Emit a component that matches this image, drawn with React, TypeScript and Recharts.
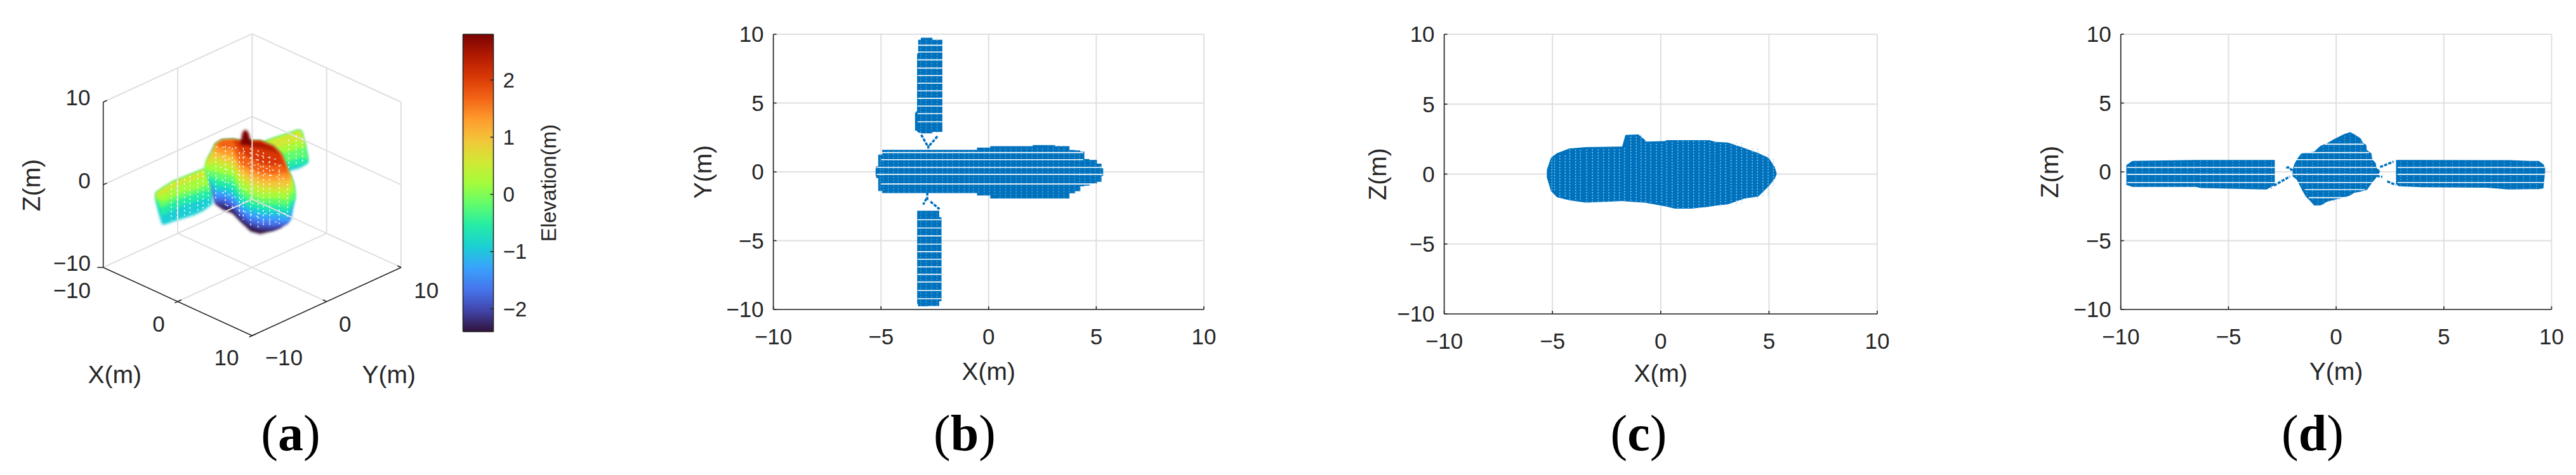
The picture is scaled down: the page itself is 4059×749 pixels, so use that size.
import React from 'react';
import { Area, CartesianGrid, ComposedChart, Line, ReferenceDot, XAxis, YAxis } from 'recharts';

const FONT = '"Liberation Sans", Arial, sans-serif';
const INK = '#262626';
const GRID = '#dfdfdf';
const BLUE = '#0072BD';
const AXIS_TICKS = [-10, -5, 0, 5, 10];

// turbo colormap, low to high
const turboColors = ['#30123b', '#4145ab', '#4675ed', '#39a2fc', '#1bcfd4', '#24eca6', '#61fc6c', '#a4fc3b', '#d1e834', '#f3c63a', '#fe9b2d', '#f36315', '#d93806', '#b11901', '#7a0402'];
const elevationTicks = [-2, -1, 0, 1, 2];
const elevationRange = [-2.4, 2.8];

// (a) view plane of the 3D plot, body silhouette and iso-elevation curves
const bodyU = [250, 258, 270, 285, 295, 300, 330, 380, 418, 465, 510, 570, 610, 640, 655, 668, 675];
const bodyTop = [215, 190, 170, 148, 125, 115, 95, 92, 100, 100, 100, 125, 165, 240, 270, 310, 345];
const bodyBottom = [245, 258, 290, 325, 385, 395, 420, 440, 480, 525, 537, 522, 505, 485, 465, 390, 370];
const bodyIso = [
  [245, 258, 290, 325, 385, 395, 405, 425, 470, 505, 518, 518, 505, 485, 465, 390, 370],
  [245, 258, 290, 325, 380, 385, 380, 402, 448, 482, 495, 500, 497, 485, 465, 390, 370],
  [245, 258, 290, 325, 355, 362, 358, 378, 425, 458, 470, 475, 476, 480, 465, 390, 370],
  [245, 258, 290, 315, 330, 335, 335, 352, 402, 433, 445, 448, 450, 458, 440, 390, 370],
  [245, 258, 290, 295, 305, 308, 312, 325, 378, 408, 418, 425, 425, 432, 412, 390, 370],
  [245, 258, 270, 268, 272, 275, 285, 292, 350, 380, 395, 398, 400, 408, 378, 380, 370],
  [240, 235, 240, 240, 240, 242, 252, 260, 320, 350, 368, 370, 370, 378, 345, 345, 345],
  [215, 210, 212, 205, 205, 208, 220, 230, 290, 318, 338, 342, 340, 345, 315, 310, 345],
  [215, 190, 185, 175, 175, 178, 190, 200, 260, 288, 308, 315, 312, 315, 285, 310, 345],
  [215, 190, 170, 150, 145, 148, 160, 170, 232, 258, 280, 285, 280, 280, 270, 310, 345],
  [215, 190, 170, 148, 125, 118, 130, 135, 205, 228, 250, 255, 250, 250, 270, 310, 345],
  [215, 190, 170, 148, 125, 115, 98, 95, 150, 180, 205, 215, 205, 240, 270, 310, 345],
  [215, 190, 170, 148, 125, 115, 95, 92, 105, 125, 130, 145, 165, 240, 270, 310, 345],
];
const spikeU = [418, 425, 432, 440, 448, 455, 462, 470];
const spikeTop = [100, 60, 48, 44, 48, 60, 85, 105];
const spikeBottom = [115, 115, 115, 115, 115, 115, 115, 115];

const leftBladeU = [18, 30, 45, 60, 100, 150, 200, 245, 262, 285];
const leftBladeTop = [345, 335, 325, 315, 290, 270, 250, 232, 240, 260];
const leftBladeBottom = [380, 440, 492, 492, 478, 462, 447, 425, 412, 395];
const leftBladeIso = [
  [375, 420, 450, 445, 420, 400, 385, 370, 365, 360],
  [375, 395, 415, 405, 385, 365, 350, 335, 330, 330],
  [370, 375, 385, 380, 360, 340, 328, 310, 305, 300],
  [360, 355, 355, 345, 320, 300, 282, 265, 262, 262],
];
const rightBladeU = [535, 600, 640, 690, 703, 722, 736];
const rightBladeTop = [100, 77, 65, 47, 50, 120, 190];
const rightBladeBottom = [290, 260, 240, 228, 222, 210, 198];
const rightBladeIso = [
  [240, 235, 225, 212, 210, 208, 198],
  [210, 205, 195, 178, 175, 178, 190],
  [170, 165, 150, 135, 130, 130, 190],
  [140, 130, 115, 100, 98, 125, 190],
];

// gaps in the point cloud of (a): u, from v, to v
const streaksU = [90, 118, 152, 178, 215, 240, 265, 300, 345, 378, 412, 430, 465, 500, 525, 555, 600, 640, 645, 680, 710];
const streaksFrom = [300, 285, 275, 262, 250, 240, 245, 150, 120, 130, 150, 130, 130, 140, 150, 170, 210, 300, 90, 70, 80];
const streaksTo = [470, 465, 450, 445, 430, 420, 400, 380, 400, 420, 450, 470, 500, 510, 500, 500, 490, 460, 225, 215, 205];
const slantRows = [
  [430, 145, 590, 185], [430, 172, 610, 212], [450, 202, 625, 250], [470, 235, 630, 278],
  [300, 125, 410, 130], [330, 170, 410, 200], [320, 220, 420, 260], [300, 270, 450, 330],
  [330, 340, 480, 395], [350, 400, 500, 455], [500, 440, 640, 440], [520, 480, 610, 480],
];

const axisLabels3d = [
  { u: -351, v: -108, text: '10' }, { u: -321, v: 285, text: '0' }, { u: -380, v: 675, text: '\u221210' },
  { u: -380, v: 804, text: '\u221210' }, { u: 30, v: 961, text: '0' }, { u: 351, v: 1121, text: '10' },
  { u: 622, v: 1121, text: '\u221210' }, { u: 911, v: 961, text: '0' }, { u: 1295, v: 804, text: '10' },
];

// box edges of the 3D axes in X, Y, Z metres
const lightEdges = [
  [[-10, 10, -10], [-10, -10, -10]], [[-10, 10, -10], [10, 10, -10]],
  [[0, -10, -10], [0, 10, -10]], [[-10, 0, -10], [10, 0, -10]],
  [[-10, -10, 10], [-10, 10, 10]], [[-10, 10, 10], [10, 10, 10]],
  [[-10, -10, 0], [-10, 10, 0]], [[-10, 10, 0], [10, 10, 0]],
  [[-10, 0, -10], [-10, 0, 10]], [[0, 10, -10], [0, 10, 10]],
  [[-10, 10, -10], [-10, 10, 10]], [[10, 10, -10], [10, 10, 10]],
];
const darkEdges = [
  [[-10, -10, -10], [-10, -10, 10]], [[-10, -10, -10], [10, -10, -10]], [[10, -10, -10], [10, 10, -10]],
  [[-10, -10, 10], [-10, -9.5, 10]], [[-10, -10, 0], [-10, -9.5, 0]], [[-10, -10, -10], [-10.4, -10.4, -10]],
  [[0, -10, -10], [0, -9.5, -10]], [[0, -10, -10], [0, -10.4, -10]], [[10, -10, -10], [10, -9.5, -10]], [[10, -10, -10], [10, -10.4, -10]],
  [[10, 0, -10], [9.5, 0, -10]], [[10, 10, -10], [9.5, 10, -10]],
];

// (b) top view outline
const bBodyX = [-5.25, -5.2, -5.06, -4.83, -4, -2, -0.87, -0.21, 0.36, 1.5, 2.6, 3.57, 3.94, 4.1, 4.42, 4.47, 4.89, 5.17, 5.32];
const bBodyTop = [0.26, 0.4, 1.26, 1.6, 1.6, 1.6, 1.6, 1.76, 1.87, 1.87, 1.95, 1.87, 1.59, 1.55, 1.48, 0.93, 0.86, 0.6, 0.26];
const bBodyLow = [-0.29, -0.45, -1.39, -1.54, -1.54, -1.54, -1.54, -1.72, -1.94, -1.94, -1.94, -1.94, -1.55, -1.4, -1.05, -1, -0.85, -0.73, -0.29];
const bUpperX = [-3.42, -3.33, -3.32, -3.23, -3.07, -2.15];
const bUpperTop = [4.3, 4.4, 8.6, 9.6, 9.75, 9.6];
const bUpperLow = [3, 3, 2.9, 2.85, 2.8, 2.9];
const bLowerX = [-3.32, -3.25, -2.4, -2.19];
const bLowerTop = [-2.82, -2.82, -2.82, -3.3];
const bLowerLow = [-9.6, -9.77, -9.75, -9.4];
const bStrands = [
  [[-3.13, 2.69], [-2.85, 1.92]], [[-2.38, 2.58], [-2.75, 1.92]], [[-2.8, 1.92], [-2.8, 1.54]],
  [[-2.85, -1.5], [-2.85, -2.05]], [[-2.89, -1.94], [-3.04, -2.38]], [[-2.7, -2.16], [-2.28, -2.71]],
];
const bRowsBody = [1.4, 0.89, 0.32, -0.18, -0.88];
const bRowsBodyStart = [-4.95, -5, -5.2, -5.2, -5];
const bRowsBodyEnd = [4.4, 4.4, 5.25, 5.3, 5];
const bRowsUpper = [9.2, 8.71, 8.14, 7.54, 6.99, 6.44, 5.89, 5.34, 4.78, 4.23, 3.64];
const bRowsLower = [-3.48, -4.08, -4.65, -5.25, -5.8, -6.35, -6.9, -7.45, -8, -8.62, -9.22];
const bBladeStripes = [-3.15, -2.9, -2.65, -2.4];

// lattice columns seen along X in (b) and (c)
const latticeX = [-5.03, -4.9, -4.66, -4.41, -4.2, -3.93, -3.71, -3.42, -3.15, -2.89, -2.64, -2.4, -2.14, -1.91, -1.67, -1.38, -1.13, -0.91, -0.7, -0.46, -0.2, 0.05, 0.28, 0.53, 0.79, 1.03, 1.28, 1.52, 1.77, 2.02, 2.27, 2.5, 2.76, 3, 3.25, 3.5, 3.74, 3.98, 4.23, 4.47, 4.72, 4.96, 5.2];

// (c) side view outline
const cBodyX = [-5.26, -5.07, -4.79, -4.23, -3.47, -1.78, -1.63, -1.03, -0.75, -0.66, 0.19, 0.28, 0.66, 1.41, 2.25, 2.54, 3.1, 3.85, 4.51, 4.98, 5.26, 5.35];
const cBodyTop = [0.3, 1.17, 1.5, 1.82, 1.93, 1.97, 2.8, 2.84, 2.47, 2.32, 2.36, 2.43, 2.43, 2.43, 2.43, 2.3, 2.26, 1.87, 1.5, 1.17, 0.52, 0.09];
const cBodyLow = [-0.24, -1.21, -1.65, -1.87, -2.04, -1.93, -1.95, -2.02, -2.04, -2.06, -2.3, -2.34, -2.47, -2.47, -2.34, -2.26, -2.17, -1.76, -1.6, -0.89, -0.35, -0.02];

// (d) front view outline
const dBodyX = [-2.02, -1.95, -1.83, -1.73, -1.61, -1.41, -1.22, -1.02, -0.73, -0.43, -0.09, 0.35, 0.65, 0.84, 1.14, 1.24, 1.39, 1.43, 1.63, 1.68, 1.83, 1.88, 2.02];
const dBodyTop = [0.12, 0.54, 0.89, 1.12, 1.35, 1.4, 1.43, 1.47, 1.89, 2.07, 2.38, 2.73, 2.89, 2.73, 2.43, 2.12, 1.97, 1.58, 1.35, 0.89, 0.66, 0.28, 0.12];
const dBodyLow = [-0.34, -0.41, -0.57, -0.88, -1.26, -1.8, -2.1, -2.44, -2.44, -2.18, -2.03, -1.87, -1.72, -1.52, -1.44, -1.38, -1.34, -1.31, -0.88, -0.75, -0.49, -0.34, -0.03];
const dLeftX = [-9.74, -9.46, -6.5, -6.3, -3.23, -2.95, -2.85];
const dLeftTop = [0.49, 0.8, 0.86, 0.86, 0.86, 0.86, 0.86];
const dLeftLow = [-0.95, -1.1, -1.1, -1.17, -1.28, -1.05, -0.9];
const dRightX = [2.78, 2.9, 4, 7, 8, 9, 9.4, 9.62, 9.7];
const dRightTop = [0.86, 0.86, 0.86, 0.85, 0.85, 0.8, 0.8, 0.55, 0.3];
const dRightLow = [-0.9, -1.05, -1.12, -1.15, -1.28, -1.25, -1.25, -1.2, 0];
const dStrands = [
  [[-2.89, -1], [-2.15, -0.34]], [[-2.32, 0.32], [-2.15, 0.32]], [[-2.15, 0.23], [-1.95, 0.05]],
  [[2.04, 0.35], [2.66, 0.74]], [[1.88, -0.29], [2.14, -0.37]], [[2.37, -0.69], [2.76, -0.95]],
];
const dRowsBody = [2.01, 1.4, 0.89, 0.32, -0.18, -0.77, -1.29, -1.87];
const dRowsBodyStart = [-0.53, -1.61, -1.83, -1.95, -2, -1.81, -1.46, -1.27];
const dRowsBodyEnd = [1.29, 1.53, 1.68, 1.88, 2.02, 1.73, 1.34, 0.45];
const dRowsBlade = [0.32, -0.18, -0.77];
const dBodyStripes = [-1.85, -1.6, -1.35, -1.1, -0.85, -0.6, -0.35, -0.1, 0.15, 0.4, 0.65, 0.9, 1.15, 1.4, 1.65];
const dLeftStripes = [-9.3, -9, -8.7, -8.4, -8.1, -7.8, -7.5, -7.2, -6.9, -6.6, -6.3, -6, -5.7, -5.4, -5.1, -4.8, -4.5, -4.2, -3.9, -3.6, -3.3, -3];
const dRightStripes = [3, 3.3, 3.6, 3.9, 4.2, 4.5, 4.8, 5.1, 5.4, 5.7, 6, 6.3, 6.6, 6.9, 7.2, 7.5, 7.8, 8.1, 8.4, 8.7, 9, 9.3];

const zip3 = (xs: number[], tops: number[], lows: number[]) =>
  xs.map((x, i) => ({ x, range: [lows[i], tops[i]] }));

const minusTick = (v: number) => (v < 0 ? `\u2212${Math.abs(v)}` : `${v}`);

const tickStyle = { fontSize: 35, fontFamily: FONT, fill: INK };
const labelStyle = { fontSize: 39, fontFamily: FONT, fill: INK };

// a lattice column is kept inside the outline it crosses
const stripesIn = (stripes: number[], xs: number[], tops: number[], lows: number[]) =>
  stripes
    .filter((s) => s >= xs[0] && s <= xs[xs.length - 1])
    .map((s) => {
      let i = 0;
      while (i < xs.length - 1 && xs[i + 1] <= s) i += 1;
      return [[s, lows[i] + 0.04], [s, tops[i] - 0.04]];
    });

type PanelProps = {
  left: number;
  width: number;
  margin: { top: number; right: number; bottom: number; left: number };
  xLabel: string;
  yLabel: string;
  xLabelDy: number;
  yLabelDx: number;
  fills: { x: number; range: number[] }[][];
  fillCurve: 'step' | 'linear';
  segments: number[][][];
  strands: number[][][];
  stripes: number[][][];
  stripeColor: string;
};

function Panel({ left, width, margin, xLabel, yLabel, xLabelDy, yLabelDx, fills, fillCurve, segments, strands, stripes, stripeColor }: PanelProps) {
  return (
    <div style={{ position: 'absolute', left, top: 0 }}>
      <ComposedChart width={width} height={749} margin={margin}>
        <CartesianGrid stroke={GRID} strokeWidth={2} />
        <XAxis
          dataKey="x"
          type="number"
          domain={[-10, 10]}
          ticks={AXIS_TICKS}
          interval={0}
          height={30}
          tickSize={-5}
          tickMargin={35}
          tickFormatter={minusTick}
          tick={tickStyle}
          stroke={INK}
          strokeWidth={1.6}
          label={{ value: xLabel, position: 'center', dy: xLabelDy, ...labelStyle }}
        />
        <YAxis
          type="number"
          domain={[-10, 10]}
          ticks={AXIS_TICKS}
          interval={0}
          width={60}
          tickSize={-5}
          tickMargin={20}
          tickFormatter={minusTick}
          tick={tickStyle}
          stroke={INK}
          strokeWidth={1.6}
          label={{ value: yLabel, position: 'center', angle: -90, dx: yLabelDx, ...labelStyle }}
        />
        {fills.map((data, i) => (
          <Area key={`fill-${i}`} type={fillCurve} data={data} dataKey="range" stroke="none" fill={BLUE} fillOpacity={1} isAnimationActive={false} dot={false} activeDot={false} />
        ))}
        {strands.map((seg, i) => (
          <Line key={`strand-${i}`} data={seg.map(([x, y]) => ({ x, y }))} dataKey="y" stroke={BLUE} strokeWidth={3.5} strokeDasharray="5 2" dot={false} activeDot={false} isAnimationActive={false} />
        ))}
        {stripes.map((seg, i) => (
          <Line key={`stripe-${i}`} data={seg.map(([x, y]) => ({ x, y }))} dataKey="y" stroke={stripeColor} strokeWidth={1.3} strokeDasharray="2 2.5" dot={false} activeDot={false} isAnimationActive={false} />
        ))}
        {segments.map((seg, i) => (
          <Line key={`row-${i}`} data={seg.map(([x, y]) => ({ x, y }))} dataKey="y" stroke="#ffffff" strokeWidth={1.6} dot={false} activeDot={false} isAnimationActive={false} />
        ))}
      </ComposedChart>
    </div>
  );
}

const rows = (ys: number[], starts: number[], ends: number[]) => ys.map((y, i) => [[starts[i], y], [ends[i], y]]);
const evenRows = (ys: number[], start: number, end: number) => ys.map((y) => [[start, y], [end, y]]);

const project = ([X, Y, Z]: number[]) => ({ u: 472 + 35.2 * (X + Y), v: 304 + 16.14 * (X - Y) - 39.1 * Z });

const bandData = (us: number[], lows: number[], tops: number[]) => us.map((u, i) => ({ u, range: [lows[i], tops[i]] }));

// a colour is painted only over the stations where its band has some thickness,
// so the lower colours do not bleed around the rim of the silhouette
const bodyLevels = [bodyBottom, ...bodyIso, bodyTop];
const bodyBands = bodyIso.length + 1;
const levelSpan = (level: number) => {
  const lower = bodyLevels[level];
  const upper = bodyLevels[level + 1];
  const kept = bodyU.map((_, i) => i).filter((i) => lower[i] > upper[i]);
  const first = Math.max(kept[0] - 1, 0);
  const last = Math.min(kept[kept.length - 1] + 1, bodyU.length - 1);
  return bandData(bodyU.slice(first, last + 1), lower.slice(first, last + 1), bodyTop.slice(first, last + 1));
};

function BandArea({ data, color }: { data: { u: number; range: number[] }[]; color: string }) {
  return <Area data={data} dataKey="range" stroke="none" fill={color} fillOpacity={1} isAnimationActive={false} dot={false} activeDot={false} />;
}

function Panel3D() {
  return (
    <div className="soft-bands" style={{ position: 'absolute', left: 0, top: 0 }}>
      <style>{'.soft-bands .recharts-area-area{filter:blur(2px)}'}</style>
      <ComposedChart width={720} height={749} margin={{ top: 0, right: 0, bottom: 0, left: 0 }}>
        <XAxis hide dataKey="u" type="number" domain={[-720, 1440]} />
        <YAxis hide reversed type="number" domain={[-570, 1677]} />
        {lightEdges.map((edge, i) => (
          <Line key={`light-${i}`} data={edge.map(project)} dataKey="v" stroke={GRID} strokeWidth={2} dot={false} activeDot={false} isAnimationActive={false} />
        ))}
        {darkEdges.map((edge, i) => (
          <Line key={`dark-${i}`} data={edge.map(project)} dataKey="v" stroke={INK} strokeWidth={1.6} dot={false} activeDot={false} isAnimationActive={false} />
        ))}
        <BandArea data={bandData(rightBladeU, rightBladeBottom, rightBladeTop)} color={turboColors[4]} />
        {rightBladeIso.map((iso, i) => (
          <BandArea key={`rb-${i}`} data={bandData(rightBladeU, iso, rightBladeTop)} color={turboColors[5 + i]} />
        ))}
        <BandArea data={bandData(leftBladeU, leftBladeBottom, leftBladeTop)} color={turboColors[4]} />
        {leftBladeIso.map((iso, i) => (
          <BandArea key={`lb-${i}`} data={bandData(leftBladeU, iso, leftBladeTop)} color={turboColors[5 + i]} />
        ))}
        {Array.from({ length: bodyBands }, (_, level) => (
          <BandArea key={`body-${level}`} data={levelSpan(level)} color={turboColors[level]} />
        ))}
        <BandArea data={bandData(spikeU, spikeBottom, spikeTop)} color={turboColors[14]} />
        {streaksU.map((u, i) => (
          <Line key={`streak-${i}`} data={[{ u, v: streaksFrom[i] }, { u, v: streaksTo[i] }]} dataKey="v" stroke="#ffffff" strokeWidth={1.3} strokeDasharray="3 4" dot={false} activeDot={false} isAnimationActive={false} />
        ))}
        {slantRows.map(([u1, v1, u2, v2], i) => (
          <Line key={`slant-${i}`} data={[{ u: u1, v: v1 }, { u: u2, v: v2 }]} dataKey="v" stroke="#ffffff" strokeWidth={1.2} strokeDasharray="3 7" dot={false} activeDot={false} isAnimationActive={false} />
        ))}
        {axisLabels3d.map((t) => (
          <ReferenceDot key={`${t.u}-${t.v}`} x={t.u} y={t.v} r={0} fill="none" stroke="none" label={{ value: t.text, position: 'center', ...tickStyle }} />
        ))}
        <ReferenceDot x={-178} y={1200} r={0} fill="none" stroke="none" label={{ value: 'X(m)', position: 'center', ...labelStyle }} />
        <ReferenceDot x={1118} y={1200} r={0} fill="none" stroke="none" label={{ value: 'Y(m)', position: 'center', ...labelStyle }} />
        <ReferenceDot x={-572} y={306} r={0} fill="none" stroke="none" label={{ value: 'Z(m)', position: 'center', angle: -90, ...labelStyle }} />
      </ComposedChart>
    </div>
  );
}

function Colorbar() {
  const [low, high] = elevationRange;
  const outline = [
    [{ x: 0, y: low }, { x: 0, y: high }],
    [{ x: 0, y: low }, { x: 1, y: low }],
    [{ x: 0, y: high }, { x: 1, y: high }],
  ];
  return (
    <div style={{ position: 'absolute', left: 720, top: 0 }}>
      <ComposedChart width={200} height={749} margin={{ top: 54, right: 82.5, bottom: 226, left: 9.5 }}>
        <defs>
          <linearGradient id="turbo" x1="0" y1="1" x2="0" y2="0">
            {turboColors.map((c, i) => (
              <stop key={c} offset={i / (turboColors.length - 1)} stopColor={c} />
            ))}
          </linearGradient>
        </defs>
        <XAxis hide dataKey="x" type="number" domain={[0, 1]} />
        <YAxis
          orientation="right"
          type="number"
          domain={elevationRange}
          ticks={elevationTicks}
          interval={0}
          width={60}
          tickSize={-5}
          tickMargin={20}
          tickFormatter={minusTick}
          tick={{ ...tickStyle, fontSize: 33 }}
          stroke={INK}
          strokeWidth={1.6}
          label={{ value: 'Elevation(m)', position: 'center', angle: -90, dx: 56.5, fontSize: 33, fontFamily: FONT, fill: INK }}
        />
        <Area data={[{ x: 0, range: elevationRange }, { x: 1, range: elevationRange }]} dataKey="range" stroke="none" fill="url(#turbo)" fillOpacity={1} isAnimationActive={false} dot={false} activeDot={false} />
        {outline.map((data, i) => (
          <Line key={i} data={data} dataKey="y" stroke={INK} strokeWidth={1.6} dot={false} activeDot={false} isAnimationActive={false} />
        ))}
      </ComposedChart>
    </div>
  );
}

function Caption({ x, letter }: { x: number; letter: string }) {
  return (
    <div style={{ position: 'absolute', left: x - 100, top: 643, width: 200, textAlign: 'center', fontFamily: '"Liberation Serif", serif', fontSize: 80, lineHeight: '80px', color: '#000' }}>
      (<b>{letter}</b>)
    </div>
  );
}

export default function App() {
  return (
    <div style={{ position: 'absolute', left: 0, top: 0, width: 4059, height: 749, background: '#fff', overflow: 'hidden' }}>
      <Panel3D />
      <Colorbar />
      <Panel
        left={1000}
        width={1000}
        margin={{ top: 54, right: 103, bottom: 231, left: 158.6 }}
        xLabel="X(m)"
        yLabel="Y(m)"
        xLabelDy={82}
        yLabelDx={-81}
        fillCurve="step"
        fills={[zip3(bBodyX, bBodyTop, bBodyLow), zip3(bUpperX, bUpperTop, bUpperLow), zip3(bLowerX, bLowerTop, bLowerLow)]}
        strands={bStrands}
        stripes={[
          ...stripesIn(latticeX, bBodyX, bBodyTop, bBodyLow),
          ...stripesIn(bBladeStripes, bUpperX, bUpperTop, bUpperLow),
          ...stripesIn(bBladeStripes, bLowerX, bLowerTop, bLowerLow),
        ]}
        stripeColor="#5ba6dc"
        segments={[
          ...rows(bRowsBody, bRowsBodyStart, bRowsBodyEnd),
          ...evenRows(bRowsUpper, -3.3, -2.15),
          ...evenRows(bRowsLower, -3.3, -2.2),
        ]}
      />
      <Panel
        left={2050}
        width={1000}
        margin={{ top: 54, right: 92, bottom: 224, left: 165.6 }}
        xLabel="X(m)"
        yLabel="Z(m)"
        xLabelDy={78}
        yLabelDx={-75.6}
        fillCurve="linear"
        fills={[zip3(cBodyX, cBodyTop, cBodyLow)]}
        strands={[]}
        stripes={stripesIn(latticeX, cBodyX, cBodyTop, cBodyLow)}
        stripeColor="#9ccdee"
        segments={[]}
      />
      <Panel
        left={3059}
        width={1000}
        margin={{ top: 54, right: 38.5, bottom: 231, left: 222.7 }}
        xLabel="Y(m)"
        yLabel="Z(m)"
        xLabelDy={82}
        yLabelDx={-82.7}
        fillCurve="linear"
        fills={[zip3(dLeftX, dLeftTop, dLeftLow), zip3(dBodyX, dBodyTop, dBodyLow), zip3(dRightX, dRightTop, dRightLow)]}
        strands={dStrands}
        stripes={[
          ...stripesIn(dBodyStripes, dBodyX, dBodyTop, dBodyLow),
          ...stripesIn(dLeftStripes, dLeftX, dLeftTop, dLeftLow),
          ...stripesIn(dRightStripes, dRightX, dRightTop, dRightLow),
        ]}
        stripeColor="#5ba6dc"
        segments={[
          ...rows(dRowsBody, dRowsBodyStart, dRowsBodyEnd),
          ...evenRows(dRowsBlade, -9.7, -2.85),
          ...evenRows(dRowsBlade, 2.85, 9.7),
        ]}
      />
      <Caption x={458} letter="a" />
      <Caption x={1520} letter="b" />
      <Caption x={2582} letter="c" />
      <Caption x={3644} letter="d" />
    </div>
  );
}
